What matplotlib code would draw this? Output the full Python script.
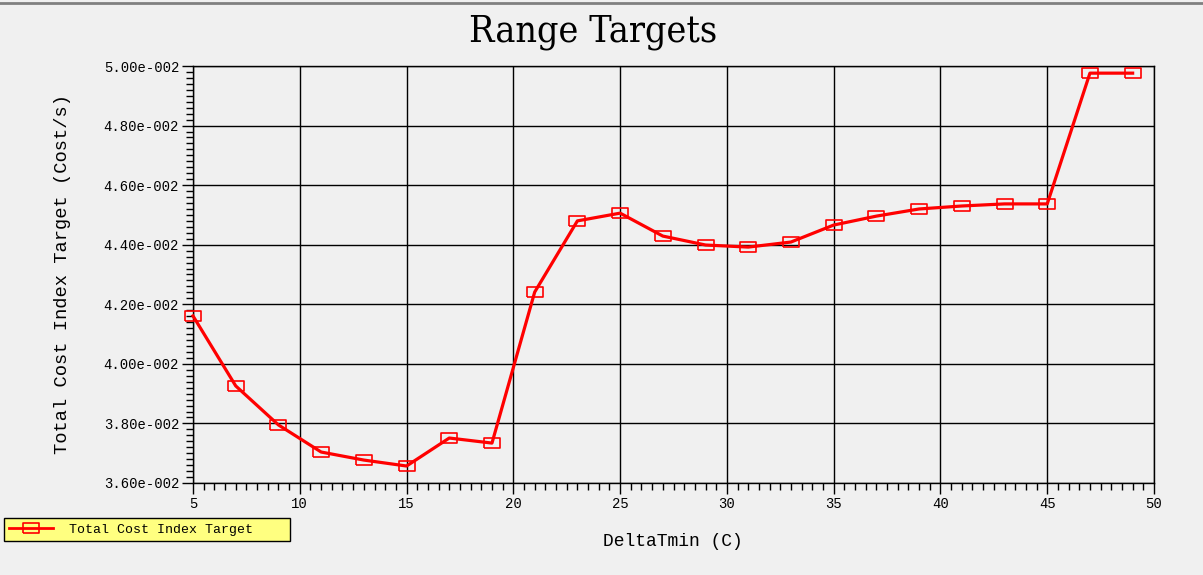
import matplotlib
matplotlib.use("Agg")
import matplotlib.pyplot as plt
from matplotlib.ticker import MultipleLocator, FuncFormatter
from matplotlib.lines import Line2D

# data
delta_tmin = [5, 7, 9, 11, 13, 15, 17, 19, 21, 23, 25, 27, 29, 31, 33,
              35, 37, 39, 41, 43, 45, 47, 49]
cost_index = [0.04161, 0.03926, 0.03795, 0.03704, 0.03677, 0.03657, 0.03751,
              0.03734, 0.04241, 0.04480, 0.04506, 0.04429, 0.04399, 0.04392,
              0.04409, 0.04466, 0.04496, 0.04520, 0.04530, 0.04537, 0.04537,
              0.04976, 0.04976]
series_name = "Total Cost Index Target"

mono = "Liberation Mono"
bg = "#f0f0f0"

fig = plt.figure(figsize=(12.03, 5.75), dpi=100, facecolor=bg)
ax = fig.add_axes([193 / 1203, 1 - 483 / 575, 961 / 1203, 417 / 575])
ax.set_facecolor(bg)

# wide hollow rectangle marker
rect = [(-1, -0.62), (1, -0.62), (1, 0.62), (-1, 0.62), (-1, -0.62)]
ax.plot(delta_tmin, cost_index, color="red", lw=2.3, marker=rect,
        markersize=12, markerfacecolor="none", markeredgecolor="red",
        markeredgewidth=1.2, clip_on=False, zorder=3)

ax.set_xlim(5, 50)
ax.set_ylim(0.036, 0.050)
ax.xaxis.set_major_locator(MultipleLocator(5))
ax.xaxis.set_minor_locator(MultipleLocator(0.5))
ax.yaxis.set_major_locator(MultipleLocator(0.002))
ax.yaxis.set_minor_locator(MultipleLocator(0.0002))


def sci(v, pos):
    m, e = ("%.2e" % v).split("e")
    return "%se%s%03d" % (m, "-" if int(e) < 0 else "+", abs(int(e)))


ax.yaxis.set_major_formatter(FuncFormatter(sci))
ax.tick_params(which="major", direction="out", length=8, width=1, color="black",
               labelsize=10, pad=2)
ax.tick_params(which="minor", direction="out", length=5, width=1, color="black")
for lab in ax.get_xticklabels() + ax.get_yticklabels():
    lab.set_fontfamily(mono)

ax.grid(True, which="major", color="black", lw=1)
for s in ax.spines.values():
    s.set_color("black")
    s.set_linewidth(1)

fig.text(593 / 1203, 1 - 32 / 575, "Range Targets", ha="center", va="center",
         fontsize=27, family="DejaVu Serif", fontstretch="condensed")
fig.text(673 / 1203, 1 - 542 / 575, "DeltaTmin (C)", ha="center", va="center",
         fontsize=13, family=mono)
fig.text(63 / 1203, 1 - 274 / 575, "Total Cost Index Target (Cost/s)",
         ha="center", va="center", rotation=90, fontsize=13.5, family=mono)

# top border line
fig.add_artist(Line2D([0, 1], [1 - 3 / 575, 1 - 3 / 575], color="#808080",
                      lw=2, transform=fig.transFigure))

handle = Line2D([], [], color="red", lw=2, marker=rect, markersize=12,
                markerfacecolor="none", markeredgecolor="red",
                markeredgewidth=1.2)
leg = fig.legend([handle], [series_name], loc="lower left",
                 bbox_to_anchor=(4 / 1203, 1 - 541 / 575, 286 / 1203, 26 / 575),
                 mode="expand", frameon=True,
                 fancybox=False, borderaxespad=0, borderpad=0.4,
                 handlelength=3.3, handletextpad=1.2,
                 prop={"family": mono, "size": 9.5})
frame = leg.get_frame()
frame.set_facecolor("#ffff80")
frame.set_edgecolor("black")
frame.set_linewidth(1)
frame.set_alpha(1)

fig.savefig("out.png", dpi=100, facecolor=bg)
